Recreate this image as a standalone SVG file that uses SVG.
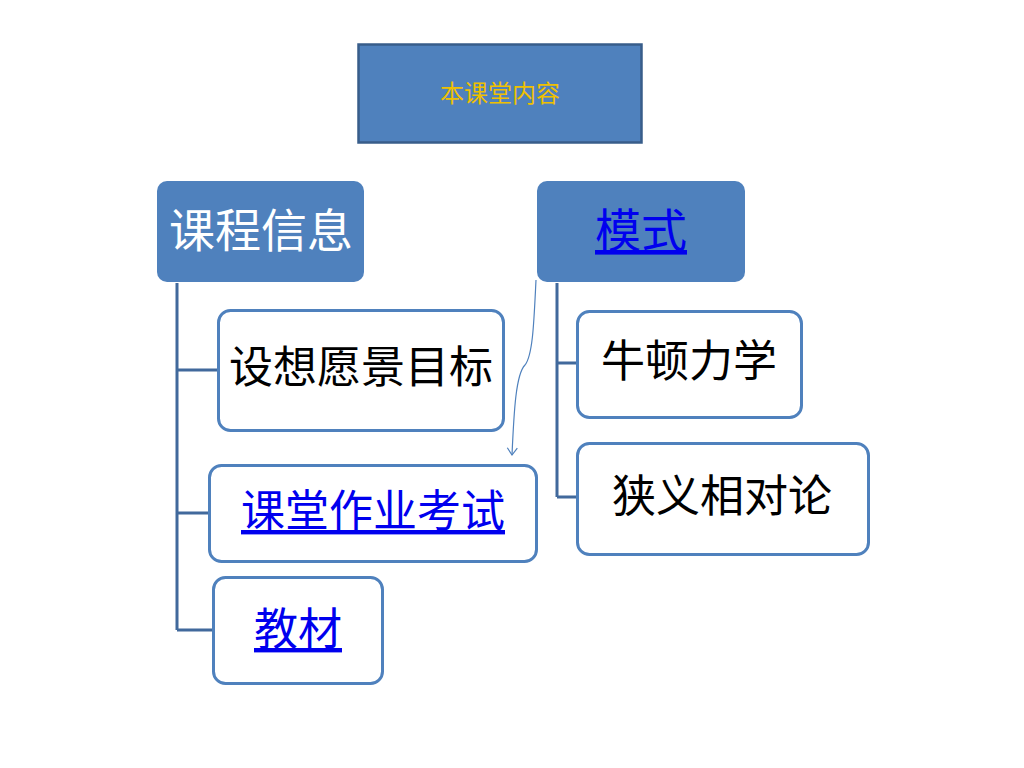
<svg xmlns="http://www.w3.org/2000/svg" width="1024" height="768" viewBox="0 0 1024 768">
<style>
.t{font-family:"Liberation Serif","Noto Sans CJK SC",serif;font-size:44px;text-anchor:middle}
.head{fill:#4F81BD}
.leaf{fill:#FFFFFF;stroke:#4F81BD;stroke-width:3}
.link{fill:#0000EE;text-decoration:underline}
.conn{fill:none;stroke:#41699C;stroke-width:3}
</style>
<defs>
<marker id="ah" markerWidth="12" markerHeight="12" refX="10" refY="6" orient="auto" markerUnits="userSpaceOnUse">
<path d="M3,1 L10,6 L3,11" fill="none" stroke="#4F81BD" stroke-width="1.2"/>
</marker>
</defs>
<rect width="1024" height="768" fill="#FFFFFF"/>
<g id="title">
<rect x="358.5" y="44.5" width="283" height="98" fill="#4F81BD" stroke="#385D8A" stroke-width="2.5"/>
<text x="500" y="102" class="t" style="font-size:24px;fill:#F0C000">本课堂内容</text>
</g>
<g id="connectors">
<path class="conn" d="M177,283 V630 M177,370 H218 M177,513 H209 M177,630 H213"/>
<path class="conn" d="M557,283 V497 M557,363 H577 M557,497 H577"/>
<path d="M536,280 C534,320 533,355 525,365 C516,374 514,410 512,455" fill="none" stroke="#4F81BD" stroke-width="1.2" marker-end="url(#ah)"/>
</g>
<g id="course">
<rect class="head" x="157" y="181" width="207" height="101" rx="10"/>
<text x="261" y="247" class="t" style="fill:#FFFFFF;font-size:46px">课程信息</text>
</g>
<g id="mode">
<rect class="head" x="537" y="181" width="208" height="101" rx="10"/>
<text x="641" y="247" class="t link" style="font-size:46px">模式</text>
</g>
<g id="vision">
<rect class="leaf" x="218.5" y="310.5" width="285" height="120" rx="12"/>
<text x="361" y="383" class="t">设想愿景目标</text>
</g>
<g id="homework">
<rect class="leaf" x="209.5" y="465.5" width="327" height="96" rx="12"/>
<text x="373" y="527" class="t link">课堂作业考试</text>
</g>
<g id="textbook">
<rect class="leaf" x="213.5" y="577.5" width="169" height="106" rx="12"/>
<text x="298" y="645" class="t link">教材</text>
</g>
<g id="newton">
<rect class="leaf" x="577.5" y="311.5" width="224" height="106" rx="12"/>
<text x="689" y="377" class="t">牛顿力学</text>
</g>
<g id="relativity">
<rect class="leaf" x="577.5" y="443.5" width="291" height="111" rx="12"/>
<text x="722" y="512" class="t">狭义相对论</text>
</g>
</svg>
